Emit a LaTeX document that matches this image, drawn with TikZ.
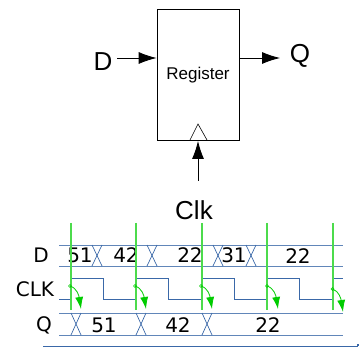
\documentclass[tikz,border=0pt]{standalone}
\usepackage{fontspec}
\setmainfont{Liberation Sans}
\newfontfamily\wavefont{DejaVu Sans}
\usetikzlibrary{arrows.meta}
\definecolor{wave}{HTML}{3A68A8}
\definecolor{edge}{HTML}{00CC00}
\tikzset{
  sig/.style={draw=black,line width=.8pt,-{Latex[length=18pt,width=12pt]}},
  label/.style={inner sep=0pt,font=\fontsize{26}{26}\selectfont},
  val/.style={inner sep=0pt,font=\wavefont\fontsize{20}{20}\selectfont},
  bus/.style={draw=wave!80,line width=1pt},
  cross/.style={draw=wave,line width=.7pt},
  clkline/.style={draw=wave,line width=1pt},
  tick/.style={draw=edge!70,line width=1.2pt},
  ripple/.style={draw=edge,line width=.8pt,-{Latex[length=12pt,width=8pt]}}
}
\begin{document}
\begin{tikzpicture}[x=1pt,y=-1pt]
    \useasboundingbox (0,0) rectangle (361,347);
    % register
    \node [draw,line width=.8pt,minimum width=82pt,minimum height=131pt,inner sep=0pt] (reg) at (198,74.5) {};
    \node [inner sep=0pt,font=\fontsize{17}{17}\selectfont] (regname) at (198,75) {Register};
    \draw [line width=.6pt] (190,140) -- (198,124) -- (207,140);
    \node [label] (d) at (103,62) {D};
    \node [label] (q) at (300,56) {Q};
    \node [label] (clk) at (194,210) {Clk};
    \coordinate (dstart) at (117,58);
    \coordinate (dend) at (reg.west |- dstart);
    \coordinate (qstart) at (reg.east |- dstart);
    \coordinate (qend) at (280,58);
    \coordinate (clkstart) at (198,181);
    \coordinate (clkend) at (198,141);
    \draw [sig] (dstart) -- (dend);
    \draw [sig] (qstart) -- (qend);
    \draw [sig] (clkstart) -- (clkend);
    % timing
    \node [val] (dname) at (41,255) {D};
    \node [val] (clkname) at (35,289) {CLK};
    \node [val] (qname) at (44,325) {Q};
    \draw [bus] (59,245) -- (343,245);
    \draw [bus] (59,266) -- (343,266);
    \draw [bus] (59,313) -- (343,313);
    \draw [bus] (59,335) -- (343,335);
    \foreach \x in {92,147,213,246} {
      \draw [cross] (\x,245) -- (\x+10,266);
      \draw [cross] (\x+10,245) -- (\x,266);
    }
    \foreach \x in {71,136,202} {
      \draw [cross] (\x,313) -- (\x+10,335);
      \draw [cross] (\x+10,313) -- (\x,335);
    }
    \node [val] (d1) at (80,255) {51};
    \node [val] (d2) at (126,255) {42};
    \node [val] (d3) at (190,255) {22};
    \node [val] (d4) at (234,255) {31};
    \node [val] (d5) at (298,256) {22};
    \node [val] (q1) at (104,325) {51};
    \node [val] (q2) at (178,325) {42};
    \node [val] (q3) at (268,325) {22};
    \draw [clkline] (59,299) -- (70,299) -- (70,278) -- (103,278) -- (103,299)
      -- (136,299) -- (136,278) -- (168,278) -- (168,299)
      -- (201,299) -- (201,278) -- (234,278) -- (234,299)
      -- (267,299) -- (267,278) -- (299,278) -- (299,299)
      -- (332,299) -- (332,278) -- (343,278);
    \foreach \x in {71,136,202,267,333} {
      \draw [tick] (\x,223) -- (\x,310);
    }
    \foreach \x in {70,135,201,267} {
      \draw [ripple] (\x,286) .. controls (\x+7,288) and (\x+9,296) .. (\x+11,309);
      \draw [edge,line width=.5pt] (\x,286) circle (1.5pt);
    }
    \draw [ripple] (332.5,289) .. controls (339,291) and (341,299) .. (343,312);
    \draw [edge,line width=.5pt] (332.5,289) circle (1.5pt);
    \draw [draw=wave,line width=1pt] (43,346.5) -- (358,346.5);
    \fill [wave] (357,344) rectangle (359,346);
  \end{tikzpicture}
\end{document}
